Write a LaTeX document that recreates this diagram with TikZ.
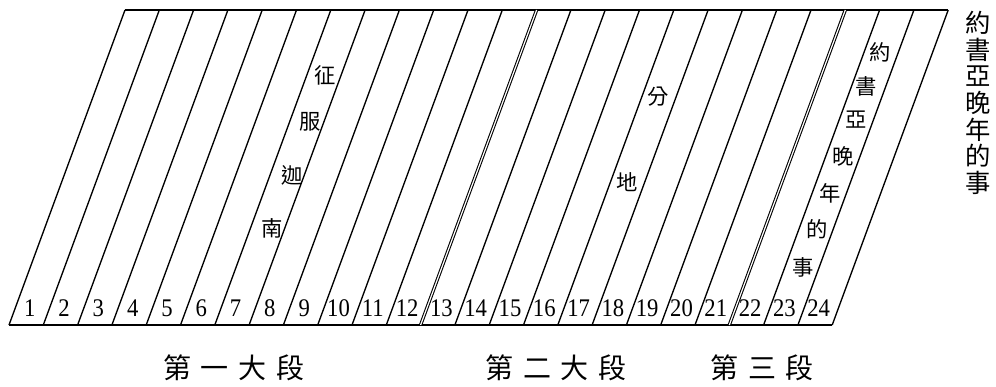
\documentclass[tikz,border=0pt]{standalone}
\usepackage{fontspec}
\setmainfont{Liberation Serif}
\newfontfamily\cjk{Noto Sans CJK TC}
\newcommand{\gp}{\hspace{7.5pt}}
\newcommand{\tall}[1]{\scalebox{1}[1.12]{#1}}

\tikzset{
  stripe/.style={line width=1pt},
  edge/.style={line width=1.4pt},
  dbl/.style={double, double distance=0.9pt, line width=0.8pt},
  num/.style={inner sep=0pt, font=\fontsize{17}{17}\selectfont},
  zi/.style={inner sep=0pt, font=\cjk\fontsize{16}{16}\selectfont},
  part/.style={inner sep=0pt, font=\cjk\fontsize{21}{21}\selectfont}
}

\begin{document}
\begin{tikzpicture}[x=0.75pt,y=-0.75pt]
\useasboundingbox (0,0) rectangle (996,386);
% corners of the stripes
\foreach \k in {0,...,24}{
  \coordinate (b\k) at ({9+34.3*\k},325);
  \coordinate (t\k) at ({125+34.3*\k},10);
}
\draw[edge] (b0) -- (b24); \draw[edge] (t0) -- (t24);
\foreach \k in {0,...,11,13,14,...,20,22,23,24}{\draw[stripe] (b\k) -- (t\k);}
\draw[dbl] (b12) -- (t12); \draw[dbl] (b21) -- (t21);
% numbers of the stripes
\foreach \k in {1,...,24}{\node[num] (n\k) at ({-4.5+34.3*\k},308) {\tall{\k}};}
% texts in the stripes
\foreach \c/\x/\y [count=\n] in {征/325/75, 服/310/122, 迦/292/175, 南/272/228}
  \node[zi] (a\n) at (\x,\y) {\c};
\foreach \c/\x/\y [count=\n] in {分/658/97, 地/627/182}
  \node[zi] (b\n) at (\x,\y) {\c};
\foreach \c/\x/\y [count=\n] in {約/880/52, 書/866/86, 亞/856/120, 晚/843/156, 年/830/193, 的/817/229, 事/803/267}
  \node[zi] (c\n) at (\x,\y) {\c};
\node[inner sep=0pt, align=center, font=\cjk\fontsize{19}{20}\selectfont] (side) at (978,103)
  {約\\書\\亞\\晚\\年\\的\\事};
% parts
\node[part] (p1) at (234,368) {第\gp 一\gp 大\gp 段};
\node[part] (p2) at (556,368) {第\gp 二\gp 大\gp 段};
\node[part] (p3) at (762,368) {第\gp 三\gp 段};
\end{tikzpicture}
\end{document}
